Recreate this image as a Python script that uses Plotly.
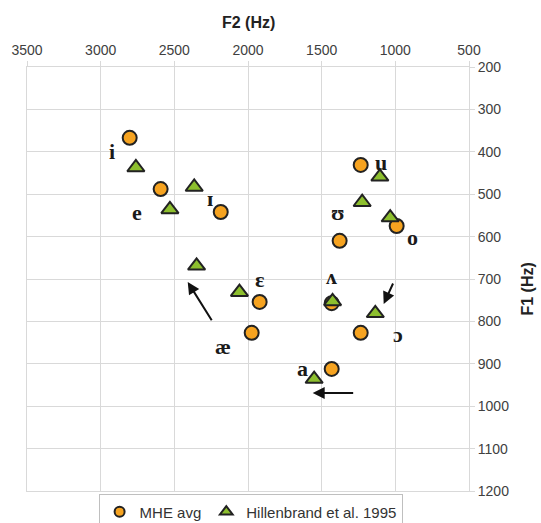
import plotly.graph_objects as go

vowels = ["i", "ɪ", "e", "ɛ", "æ", "a", "ʌ", "ɔ", "o", "ʊ", "u"]
mhe_f2 = [2803, 2185, 2593, 1921, 1975, 1432, 1432, 1235, 991, 1378, 1235]
mhe_f1 = [367, 542, 488, 754, 827, 912, 757, 827, 575, 610, 431]
hil_f2 = [2761, 2365, 2530, 2058, 2349, 1551, 1426, 1136, 1035, 1225, 1105]
hil_f1 = [437, 483, 536, 731, 669, 936, 753, 781, 555, 519, 459]
label_f2 = [2925, 2260, 2755, 1921, 2172, 1629, 1432, 984, 882, 1391, 1099]
label_f1 = [400, 509, 542, 700, 860, 910, 693, 832, 603, 542, 426]

# arrows: (tail_f2, tail_f1, head_f2, head_f1)
arrow_tail_f2 = [2240, 1011, 1276]
arrow_tail_f1 = [801, 707, 969]
arrow_head_f2 = [2409, 1079, 1561]
arrow_head_f1 = [707, 759, 969]

x_ticks = [3500, 3000, 2500, 2000, 1500, 1000, 500]
y_ticks = [200, 300, 400, 500, 600, 700, 800, 900, 1000, 1100, 1200]

ORANGE = "#F6A320"
GREEN = "#8DBF2E"
OUTLINE = "#222222"

fig = go.Figure()
fig.add_trace(go.Scatter(
    x=mhe_f2, y=mhe_f1, mode="markers", name="MHE avg", showlegend=False,
    marker=dict(symbol="circle", size=14, color=ORANGE,
                line=dict(color=OUTLINE, width=2)),
))
fig.add_trace(go.Scatter(
    x=hil_f2, y=hil_f1, mode="markers", name="Hillenbrand et al. 1995", showlegend=False,
    marker=dict(symbol="triangle-up", size=15, color=GREEN,
                line=dict(color=OUTLINE, width=2)),
))
# legend entries (smaller symbols, as in the reference legend)
fig.add_trace(go.Scatter(
    x=[None], y=[None], mode="markers", name="MHE avg",
    marker=dict(symbol="circle", size=10, color=ORANGE,
                line=dict(color=OUTLINE, width=2)),
))
fig.add_trace(go.Scatter(
    x=[None], y=[None], mode="markers", name="Hillenbrand et al. 1995",
    marker=dict(symbol="triangle-up", size=11, color=GREEN,
                line=dict(color=OUTLINE, width=2)),
))

for v, lx, ly in zip(vowels, label_f2, label_f1):
    fig.add_annotation(x=lx, y=ly, text="<b>%s</b>" % v, showarrow=False,
                       font=dict(family="Liberation Serif", size=22, color="#1a1a1a"),
                       xref="x", yref="y")

for tx, ty, hx, hy in zip(arrow_tail_f2, arrow_tail_f1, arrow_head_f2, arrow_head_f1):
    fig.add_annotation(x=hx, y=hy, ax=tx, ay=ty, xref="x", yref="y",
                       axref="x", ayref="y", text="", showarrow=True,
                       arrowhead=2, arrowsize=1.2, arrowwidth=2,
                       arrowcolor="#111111")

fig.add_annotation(text="<b>F2 (Hz)</b>", xref="paper", yref="paper",
                   x=0.5, y=1.0, yshift=55, showarrow=False,
                   font=dict(family="Liberation Sans", size=16, color="#222222"))
fig.add_annotation(text="<b>F1 (Hz)</b>", xref="paper", yref="paper",
                   x=1.0, y=0.5, xshift=68, yshift=-10, showarrow=False, textangle=-90,
                   font=dict(family="Liberation Sans", size=16, color="#222222"))

axis_common = dict(showgrid=True, gridcolor="#d9d9d9", gridwidth=1,
                   showline=True, linecolor="#d9d9d9", linewidth=1, mirror=True,
                   zeroline=False, ticks="outside", ticklen=5, tickcolor="#d9d9d9",
                   tickfont=dict(family="Liberation Sans", size=14, color="#404040"))

fig.update_xaxes(range=[3500, 500], side="top", tickvals=x_ticks,
                 ticktext=[str(t) for t in x_ticks], **axis_common)
fig.update_yaxes(range=[1200, 200], side="right", tickvals=y_ticks,
                 ticktext=[str(t) for t in y_ticks], **axis_common)

fig.update_layout(
    width=541, height=523,
    margin=dict(l=27, r=72, t=67, b=32, autoexpand=False),
    plot_bgcolor="white", paper_bgcolor="white",
    showlegend=True,
    legend=dict(orientation="h", x=0.162, y=-0.008, xanchor="left", yanchor="top",
                bordercolor="#bfbfbf", borderwidth=1, bgcolor="white",
                font=dict(family="Liberation Sans", size=15, color="#333333"),
                itemwidth=30, tracegroupgap=0),
)

fig.write_html("out.html")
